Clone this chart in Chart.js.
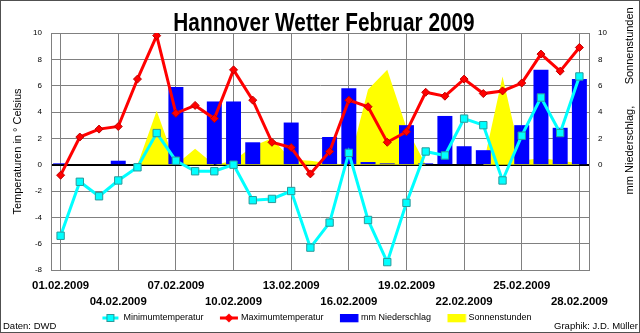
<!DOCTYPE html>
<html>
<head>
<meta charset="utf-8">
<title>Hannover Wetter Februar 2009</title>
<script src="https://cdn.jsdelivr.net/npm/chart.js@4.4.1/dist/chart.umd.min.js"></script>
<style>
  html, body { margin: 0; padding: 0; background: #fff; }
  canvas { display: block; }
</style>
</head>
<body>
<canvas id="wetterChart" width="640" height="333"></canvas>
<script>
const tage = [
    '01.02.2009', '02.02.2009', '03.02.2009', '04.02.2009', '05.02.2009', '06.02.2009', '07.02.2009',
    '08.02.2009', '09.02.2009', '10.02.2009', '11.02.2009', '12.02.2009', '13.02.2009', '14.02.2009',
    '15.02.2009', '16.02.2009', '17.02.2009', '18.02.2009', '19.02.2009', '20.02.2009', '21.02.2009',
    '22.02.2009', '23.02.2009', '24.02.2009', '25.02.2009', '26.02.2009', '27.02.2009', '28.02.2009',
];

// Temperaturen in Grad Celsius
const minTemp = [-5.4, -1.3, -2.4, -1.2, -0.2, 2.4, 0.3, -0.5, -0.5, 0.0, -2.7, -2.6, -2.0, -6.3,
    -4.4, 0.9, -4.2, -7.4, -2.9, 1.0, 0.7, 3.5, 3.0, -1.2, 2.2, 5.1, 2.4, 6.7];
const maxTemp = [-0.8, 2.1, 2.7, 2.9, 6.5, 9.8, 3.9, 4.5, 3.5, 7.2, 4.9, 1.7, 1.3, -0.7,
    1.0, 4.9, 4.4, 1.7, 2.5, 5.5, 5.2, 6.5, 5.4, 5.6, 6.2, 8.4, 7.1, 8.9];

// mm Niederschlag und Sonnenstunden (rechte Achse)
const niederschlag = [0.1, 0, 0, 0.3, 0, 0, 5.9, 0, 4.8, 4.8, 1.7, 0, 3.2, 0,
    2.1, 5.8, 0.2, 0.1, 3.0, 0.1, 3.7, 1.4, 1.1, 0, 3.0, 7.2, 2.8, 6.5];
const sonnenstunden = [0, 0, 0, 0, 0, 4.1, 0, 1.2, 0, 0.3, 1.4, 2.0, 0.4, 0.3,
    0.1, 0, 5.7, 7.2, 2.8, 0, 0, 0, 0, 6.7, 0.3, 0.5, 0.3, 0.1];

const achseMin = -8;
const achseMax = 10;
const achseSchritt = 2;

const titel = 'Hannover Wetter Februar 2009';
const titelLinks = 'Temperaturen in ° Celsius';
const titelRechts = 'mm Niederschlag,       Sonnenstunden';
const quelle = 'Daten: DWD';
const autor = 'Graphik: J.D. Müller';

const gitterGrau = '#808080';
const schrift = '"Liberation Sans", Arial, sans-serif';
Chart.defaults.font.family = schrift;
Chart.defaults.color = '#000';

// kleine Legendenbilder: Linie mit Marker bzw. Farbfeld
function legendIcon(draw) {
    const c = document.createElement('canvas');
    c.width = 56;
    c.height = 14;
    draw(c.getContext('2d'));
    return c;
}

const legendIcons = [
    legendIcon(g => {
        g.fillStyle = '#00ffff';
        g.fillRect(26, 5.5, 16, 3);
        g.fillRect(30.5, 3.5, 7, 7);
        g.strokeStyle = '#2a9a9a';
        g.strokeRect(30.5, 3.5, 7, 7);
    }),
    legendIcon(g => {
        g.fillStyle = '#ff0000';
        g.fillRect(26, 5.5, 18, 3);
        g.beginPath();
        g.moveTo(35, 2.5); g.lineTo(39.5, 7); g.lineTo(35, 11.5); g.lineTo(30.5, 7);
        g.closePath();
        g.fill();
    }),
    legendIcon(g => {
        g.fillStyle = '#0000ff';
        g.fillRect(26, 3, 18.5, 8.3);
    }),
    legendIcon(g => {
        g.fillStyle = '#ffff00';
        g.fillRect(26, 3, 18.5, 8.3);
    }),
];

// Hintergrund, Rahmen, schmaler Titel, rechter Achsentitel und Fusszeile
const rahmenUndTexte = {
    id: 'rahmenUndTexte',
    beforeDraw(chart) {
        const ctx = chart.ctx;
        ctx.save();
        ctx.fillStyle = '#fff';
        ctx.fillRect(0, 0, chart.width, chart.height);
        ctx.restore();
    },
    afterDraw(chart) {
        const ctx = chart.ctx;
        const y2 = chart.scales.y2;
        ctx.save();
        ctx.strokeStyle = '#505050';
        ctx.lineWidth = 1;
        ctx.strokeRect(0.5, 0.5, chart.width - 1, chart.height - 1);

        // Titel in schmaler Schrift (horizontal gestaucht)
        ctx.fillStyle = '#000';
        ctx.font = 'bold 26px ' + schrift;
        ctx.textAlign = 'center';
        ctx.textBaseline = 'alphabetic';
        ctx.save();
        ctx.translate(chart.width / 2 + 4, 30.6);
        ctx.scale(0.8, 1);
        ctx.fillText(titel, 0, 0);
        ctx.restore();

        ctx.font = '11px ' + schrift;
        ctx.textBaseline = 'middle';
        ctx.translate(chart.width - 10, (y2.top + y2.getPixelForValue(0)) / 2 + 2);
        ctx.rotate(-Math.PI / 2);
        ctx.fillText(titelRechts, 0, 0);
        ctx.restore();

        ctx.save();
        ctx.fillStyle = '#000';
        ctx.font = '9.5px ' + schrift;
        ctx.textBaseline = 'middle';
        ctx.textAlign = 'left';
        ctx.fillText(quelle, 3, chart.height - 6.5);
        ctx.textAlign = 'right';
        ctx.fillText(autor, chart.width - 2, chart.height - 6.5);
        ctx.restore();
    }
};

const data = {
    labels: tage,
    datasets: [{
        type: 'line',
        label: 'Minimumtemperatur',
        data: minTemp,
        yAxisID: 'y',
        order: 0,
        borderColor: '#00ffff',
        borderWidth: 3,
        tension: 0,
        pointStyle: 'rect',
        pointRadius: 5.2,
        pointBackgroundColor: '#00ffff',
        pointBorderColor: '#2a9a9a',
        pointBorderWidth: 1,
    }, {
        type: 'line',
        label: 'Maximumtemperatur',
        data: maxTemp,
        yAxisID: 'y',
        order: 0,
        borderColor: '#ff0000',
        borderWidth: 3,
        tension: 0,
        pointStyle: 'rectRot',
        pointRadius: 4,
        pointBackgroundColor: '#ff0000',
        pointBorderColor: '#c00000',
        pointBorderWidth: 1,
    }, {
        type: 'bar',
        label: 'mm Niederschlag',
        data: niederschlag,
        yAxisID: 'y2',
        order: 1,
        backgroundColor: '#0000ff',
        barPercentage: 0.78,
        categoryPercentage: 1,
    }, {
        type: 'line',
        label: 'Sonnenstunden',
        data: sonnenstunden,
        yAxisID: 'y2',
        order: 2,
        fill: 'origin',
        backgroundColor: '#ffff00',
        borderColor: 'rgba(0,0,0,0)',
        borderWidth: 0,
        tension: 0,
        pointRadius: 0,
    }]
};

const config = {
    type: 'bar',
    data: data,
    plugins: [rahmenUndTexte],
    options: {
        responsive: false,
        animation: false,
        layout: { padding: { top: 33, bottom: 0.5, left: 0, right: 18.6 } },
        plugins: {
            title: { display: false },
            legend: {
                position: 'bottom',
                labels: {
                    usePointStyle: true,
                    pointStyleWidth: 29,
                    padding: 4,
                    color: '#000',
                    font: { size: 9 },
                    generateLabels: chart => Chart.defaults.plugins.legend.labels.generateLabels(chart)
                        .map(item => Object.assign(item, { pointStyle: legendIcons[item.datasetIndex] })),
                },
            },
            tooltip: { enabled: false },
        },
        scales: {
            x: {
                offset: true,
                afterFit: scale => { scale.height = 39.5; },
                grid: {
                    offset: false,
                    drawTicks: false,
                    color: ctx => ctx.index % 3 === 0 ? gitterGrau : 'rgba(0,0,0,0)',
                },
                border: { color: gitterGrau },
                ticks: {
                    autoSkip: false,
                    maxRotation: 0,
                    padding: 8.15,
                    color: '#000',
                    font: { size: 11.4, weight: 'bold', lineHeight: '15.7px' },
                    callback: function (value, index) {
                        if (index % 3 !== 0) return '';
                        const label = this.getLabelForValue(value);
                        // abwechselnd obere und untere Zeile
                        return (index / 3) % 2 === 0 ? [label, ''] : ['', label];
                    },
                },
            },
            y: {
                position: 'left',
                min: achseMin,
                max: achseMax,
                afterFit: scale => { scale.width = 51; },
                ticks: { stepSize: achseSchritt, padding: 9, font: { size: 8 }, color: '#000' },
                grid: {
                    drawTicks: false,
                    color: ctx => ctx.tick && ctx.tick.value === 0 ? '#000' : gitterGrau,
                    lineWidth: ctx => ctx.tick && ctx.tick.value === 0 ? 2 : 1,
                },
                border: { color: gitterGrau },
                title: {
                    display: true,
                    text: titelLinks,
                    color: '#000',
                    font: { size: 11 },
                    padding: { top: 11.4, bottom: 0 },
                },
            },
            y2: {
                position: 'right',
                min: achseMin,
                max: achseMax,
                afterFit: scale => { scale.width = 32.4; },
                ticks: {
                    stepSize: achseSchritt,
                    padding: 9,
                    font: { size: 8 },
                    color: '#000',
                    callback: value => value >= 0 ? value : '',
                },
                grid: { drawOnChartArea: false, drawTicks: false },
                border: { color: gitterGrau },
            },
        },
    }
};

const wetterChart = new Chart(document.getElementById('wetterChart'), config);
</script>
</body>
</html>
